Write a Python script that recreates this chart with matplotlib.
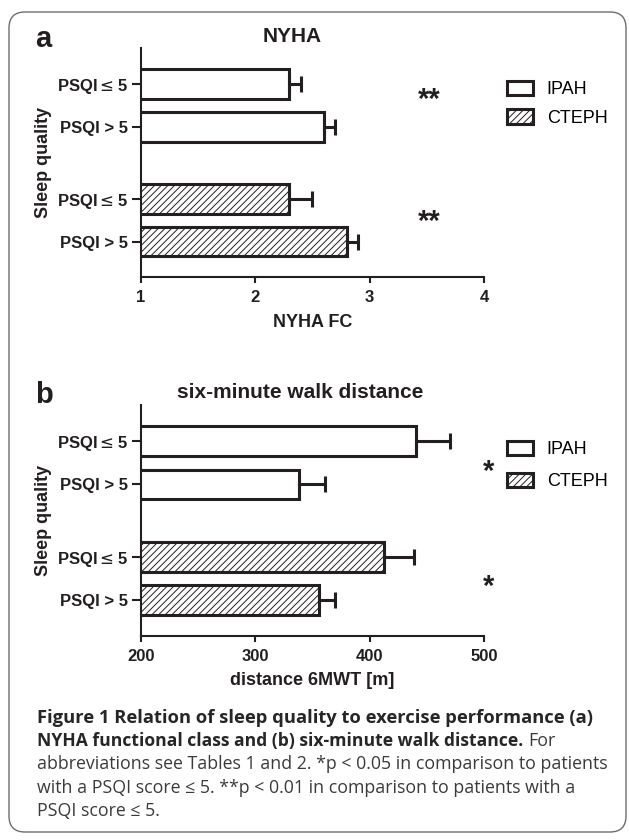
import matplotlib
matplotlib.use('Agg')
import matplotlib.pyplot as plt
import numpy as np
from matplotlib.patches import FancyBboxPatch, Patch

plt.rcParams['font.family'] = ['Liberation Sans', 'DejaVu Sans']
plt.rcParams['hatch.linewidth'] = 0.7

# data
groups = ['IPAH', 'CTEPH']
row_labels = [r'PSQI$\leq$5', 'PSQI > 5', r'PSQI$\leq$5', 'PSQI > 5']
nyha_ipah = [2.3, 2.6]
nyha_ipah_err = [0.1, 0.1]
nyha_cteph = [2.3, 2.8]
nyha_cteph_err = [0.2, 0.1]
walk_ipah = [441, 338]
walk_ipah_err = [29, 23]
walk_cteph = [413, 356]
walk_cteph_err = [26, 14]
nyha_ticks = [1, 2, 3, 4]
walk_ticks = [200, 300, 400, 500]

ink = '#231f20'
W, H = 629, 840
fig = plt.figure(figsize=(W / 100, H / 100), dpi=100)


def fig_box(left, top, right, bottom):
    # pixel box -> figure fraction
    return [left / W, 1 - bottom / H, (right - left) / W, (bottom - top) / H]


# rounded frame around the whole figure
frame = FancyBboxPatch((0.09, 0.08), 6.17, 8.20, boxstyle='round,pad=0,rounding_size=0.16',
                       transform=fig.dpi_scale_trans, facecolor='white', edgecolor='#6d6d6d',
                       linewidth=1.0, zorder=-10)
fig.patches.append(frame)

pos_ipah = [0, 1]
pos_cteph = [2.67, 3.67]


def draw_panel(ax, ipah, ipah_err, cteph, cteph_err, ticks, xlabel):
    ax.barh(pos_ipah, ipah, height=0.69, color='white', edgecolor=ink, linewidth=2.2, zorder=2)
    ax.barh(pos_cteph, cteph, height=0.69, color='white', edgecolor=ink, linewidth=2.2,
            hatch='/////', zorder=2)
    ax.errorbar(ipah, pos_ipah, xerr=[np.zeros(2), ipah_err], fmt='none', ecolor=ink,
                elinewidth=2.2, capsize=5.8, capthick=2.2, zorder=3)
    ax.errorbar(cteph, pos_cteph, xerr=[np.zeros(2), cteph_err], fmt='none', ecolor=ink,
                elinewidth=2.2, capsize=5.8, capthick=2.2, zorder=3)
    ax.set_xlim(ticks[0], ticks[-1])
    ax.set_ylim(4.5, -0.84)
    ax.set_xticks(ticks)
    ax.set_xticklabels([str(t) for t in ticks], fontsize=12, fontweight='bold', color=ink)
    ax.set_yticks(pos_ipah + pos_cteph)
    ax.set_yticklabels(row_labels, fontsize=12, fontweight='bold', color=ink)
    ax.tick_params(axis='y', length=6.5, width=1.5, pad=2.5, color=ink)
    ax.tick_params(axis='x', length=4.5, width=1.5, pad=5, color=ink)
    for s in ['top', 'right']:
        ax.spines[s].set_visible(False)
    for s in ['left', 'bottom']:
        ax.spines[s].set_linewidth(1.5)
        ax.spines[s].set_color(ink)
    ax.set_xlabel(xlabel, fontsize=13, fontweight='bold', color=ink, labelpad=6)
    ax.set_ylabel('Sleep quality', fontsize=13, fontweight='bold', color=ink)
    ax.yaxis.set_label_coords(-0.258, 0.5)
    ax.patch.set_alpha(0)


ax_a = fig.add_axes(fig_box(140.7, 48, 484, 277.3))
draw_panel(ax_a, nyha_ipah, nyha_ipah_err, nyha_cteph, nyha_cteph_err, nyha_ticks, 'NYHA FC')
ax_b = fig.add_axes(fig_box(140.7, 405, 484, 635.7))
draw_panel(ax_b, walk_ipah, walk_ipah_err, walk_cteph, walk_cteph_err, walk_ticks, 'distance 6MWT [m]')

# significance marks
ax_a.text(3.52, 0.37, '**', fontsize=21, fontweight='bold', color=ink, ha='center', va='center')
ax_a.text(3.52, 3.2, '**', fontsize=21, fontweight='bold', color=ink, ha='center', va='center')
ax_b.text(503.6, 0.71, '*', fontsize=21, fontweight='bold', color=ink, ha='center', va='center')
ax_b.text(503.6, 3.37, '*', fontsize=21, fontweight='bold', color=ink, ha='center', va='center')

# legends
handles = [Patch(facecolor='white', edgecolor=ink, linewidth=2.2),
           Patch(facecolor='white', edgecolor=ink, linewidth=2.2, hatch='/////')]
for ax, ytop, gap in [(ax_a, 0.857, 0.61), (ax_b, 0.846, 0.83)]:
    ax.legend(handles, groups, loc='upper left', bbox_to_anchor=(1.067, ytop), frameon=False,
              handlelength=1.45, handleheight=0.85, handletextpad=0.75,
              labelspacing=gap, borderpad=0, borderaxespad=0, prop={'size': 13})

# titles and panel letters
fig.text(292 / W, 1 - 37 / H, 'NYHA', fontsize=15, fontweight='bold', color=ink, ha='center', va='center')
fig.text(300.6 / W, 1 - 393 / H, 'six-minute walk distance', fontsize=15, fontweight='bold',
         color=ink, ha='center', va='center')
fig.text(35 / W, 1 - 47 / H, 'a', fontsize=21, fontweight='bold', color=ink, ha='left', va='baseline')
fig.text(35 / W, 1 - 403 / H, 'b', fontsize=21, fontweight='bold', color=ink, ha='left', va='baseline')

# caption
cap_font = ['Open Sans', 'DejaVu Sans']
cap_color = '#3a3a3a'
cap_size = 12.8
cap_x = 37 / W
base = [722.7, 746, 769.3, 792.7, 816]
fig.text(cap_x, 1 - base[0] / H, 'Figure 1 Relation of sleep quality to exercise performance (a)',
         family=cap_font, fontsize=13.2, fontweight='bold', color='#262626', va='baseline')
t2 = fig.text(cap_x, 1 - base[1] / H, 'NYHA functional class and (b) six-minute walk distance.',
              family=cap_font, fontsize=12.6, fontweight='bold', color='#262626', va='baseline')
renderer = fig.canvas.get_renderer()
bb = t2.get_window_extent(renderer=renderer)
fig.text((bb.x1 + 5) / W, 1 - base[1] / H, 'For', family=cap_font, fontsize=cap_size,
         color=cap_color, va='baseline')
rest = ['abbreviations see Tables 1 and 2. *p < 0.05 in comparison to patients',
        'with a PSQI score \u2264 5. **p < 0.01 in comparison to patients with a',
        'PSQI score \u2264 5.']
for line, b in zip(rest, base[2:]):
    fig.text(cap_x, 1 - b / H, line, family=cap_font, fontsize=cap_size, color=cap_color, va='baseline')

fig.savefig('out.png', dpi=100)
